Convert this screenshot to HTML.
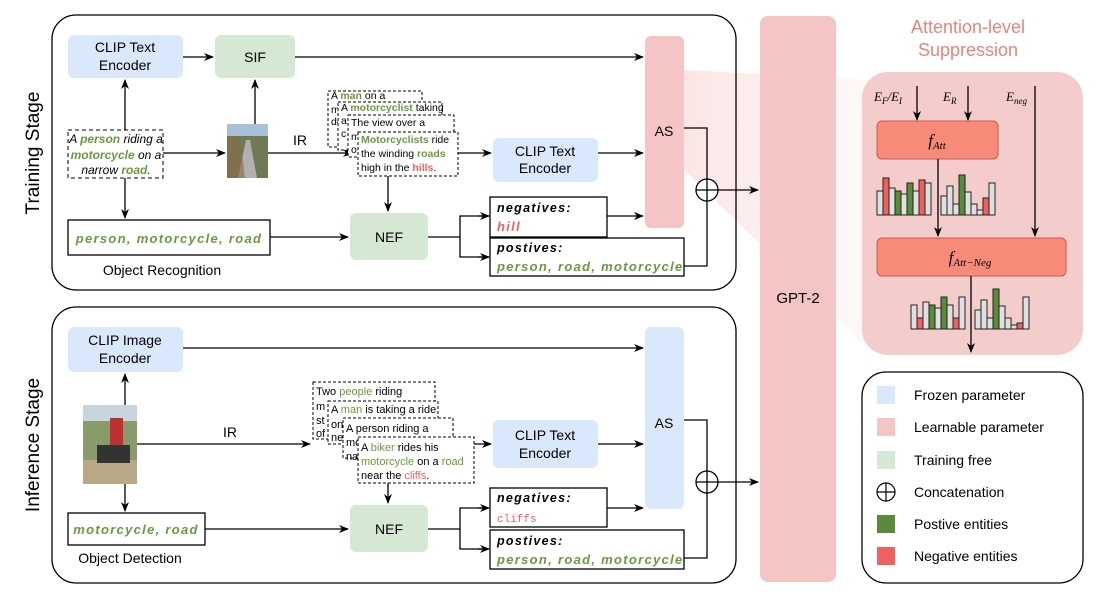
<!DOCTYPE html>
<html><head><meta charset="utf-8"><style>
html,body{margin:0;padding:0;background:#fff}
svg{display:block;font-family:"Liberation Sans",sans-serif}
.c{font-family:"Liberation Sans",sans-serif;font-style:italic;font-weight:bold}
.cp{letter-spacing:1.3px}
.g{fill:#6a9a3f}.r{fill:#f06060}
</style></head><body>
<svg width="1105" height="600" viewBox="0 0 1105 600" xmlns="http://www.w3.org/2000/svg">
<defs>
<marker id="a" markerWidth="10" markerHeight="10" refX="9" refY="5" orient="auto" markerUnits="userSpaceOnUse"><path d="M0,1 L10,5 L0,9 L3,5 z" fill="#000"/></marker>
<linearGradient id="fan" x1="0" x2="1"><stop offset="0" stop-color="#f8d0d0" stop-opacity="0.9"/><stop offset="1" stop-color="#f8d0d0" stop-opacity="0.2"/></linearGradient>
</defs>
<polygon points="684,70 870,80 870,350 684,170" fill="url(#fan)" opacity="0.6"/>
<rect x="52" y="15" width="684" height="275" rx="24" fill="none" stroke="#000" stroke-width="1.3"/>
<rect x="52" y="307" width="684" height="276" rx="24" fill="none" stroke="#000" stroke-width="1.3"/>
<text transform="translate(39,153) rotate(-90)" text-anchor="middle" font-size="19">Training Stage</text>
<text transform="translate(39,445) rotate(-90)" text-anchor="middle" font-size="19">Inference Stage</text>
<rect x="760" y="16" width="76" height="566" rx="8" fill="#f5c4c4"/>
<text x="798" y="303" text-anchor="middle" font-size="15">GPT-2</text>
<!-- Training -->
<rect x="68" y="35" width="115" height="43" rx="6" fill="#dae8fc"/>
<text x="125" y="52" text-anchor="middle" font-size="14">CLIP Text</text><text x="125" y="70" text-anchor="middle" font-size="14">Encoder</text>
<rect x="215" y="35" width="80" height="43" rx="6" fill="#d5e8d4"/>
<text x="255" y="62" text-anchor="middle" font-size="14">SIF</text>
<rect x="645" y="36" width="39" height="192" rx="6" fill="#f5c4c4"/>
<text x="664" y="136" text-anchor="middle" font-size="14">AS</text>
<line x1="183" y1="57" x2="213" y2="57" stroke="#000" stroke-width="1.3" marker-end="url(#a)"/>
<line x1="295" y1="57" x2="643" y2="57" stroke="#000" stroke-width="1.3" marker-end="url(#a)"/>
<rect x="68" y="130" width="95" height="48" fill="#fff" stroke="#000" stroke-dasharray="4,3"/>
<text font-size="12" text-anchor="middle" font-style="italic"><tspan x="116" y="143">A <tspan class="g" font-weight="bold">person</tspan> riding a</tspan><tspan x="116" y="159"><tspan class="g" font-weight="bold">motorcycle</tspan> on a</tspan><tspan x="116" y="174">narrow <tspan class="g" font-weight="bold">road</tspan>.</tspan></text>
<line x1="125" y1="130" x2="125" y2="80" stroke="#000" stroke-width="1.3" marker-end="url(#a)"/>
<line x1="125" y1="178" x2="125" y2="218" stroke="#000" stroke-width="1.3" marker-end="url(#a)"/>
<line x1="163" y1="153" x2="225" y2="153" stroke="#000" stroke-width="1.3" marker-end="url(#a)"/>
<rect x="227" y="124" width="41" height="54" fill="#6d7a55"/><rect x="227" y="124" width="41" height="12" fill="#a8c0d8"/><polygon points="238,178 257,178 250,140 246,140" fill="#b0b0b0"/><polygon points="227,136 240,136 245,178 227,178" fill="#8a6a45" opacity="0.6"/>
<line x1="255" y1="124" x2="255" y2="80" stroke="#000" stroke-width="1.3" marker-end="url(#a)"/>
<line x1="268" y1="153" x2="352" y2="153" stroke="#000" stroke-width="1.3" marker-end="url(#a)"/>
<text x="300" y="145" text-anchor="middle" font-size="14">IR</text>
<g font-size="10.5">
<rect x="328" y="91" width="94" height="56" fill="#fff" stroke="#000" stroke-dasharray="3,2"/>
<text x="331" y="99">A <tspan class="g" font-weight="bold">man</tspan> on a</text><text x="331" y="113">m</text><text x="331" y="125">do</text>
<rect x="338" y="102" width="104" height="48" fill="#fff" stroke="#000" stroke-dasharray="3,2"/>
<text x="341" y="111">A <tspan class="g" font-weight="bold">motorcyclist</tspan> taking</text><text x="341" y="124">a</text><text x="341" y="137">c</text>
<rect x="348" y="115" width="106" height="42" fill="#fff" stroke="#000" stroke-dasharray="3,2"/>
<text x="351" y="126">The view over a</text><text x="351" y="140">m</text><text x="351" y="153">o</text>
<rect x="358" y="132" width="100" height="44" fill="#fff" stroke="#000" stroke-dasharray="3,2"/>
<text x="361" y="143"><tspan class="g" font-weight="bold">Motorcyclists</tspan> ride</text><text x="361" y="157">the winding <tspan class="g" font-weight="bold">roads</tspan></text><text x="361" y="171">high in the <tspan class="r" font-weight="bold">hills</tspan>.</text>
</g>
<line x1="458" y1="153" x2="491" y2="153" stroke="#000" stroke-width="1.3" marker-end="url(#a)"/>
<rect x="493" y="138" width="105" height="44" rx="6" fill="#dae8fc"/>
<text x="545" y="156" text-anchor="middle" font-size="14">CLIP Text</text><text x="545" y="173" text-anchor="middle" font-size="14">Encoder</text>
<line x1="598" y1="153" x2="643" y2="153" stroke="#000" stroke-width="1.3" marker-end="url(#a)"/>
<line x1="388" y1="176" x2="388" y2="211" stroke="#000" stroke-width="1.3" marker-end="url(#a)"/>
<rect x="68" y="220" width="202" height="35" fill="#fff" stroke="#000" stroke-width="1.3"/>
<text x="169" y="243" text-anchor="middle" class="c g cp" font-size="13">person, motorcycle, road</text>
<text x="162" y="275" text-anchor="middle" font-size="14">Object Recognition</text>
<line x1="270" y1="237" x2="348" y2="237" stroke="#000" stroke-width="1.3" marker-end="url(#a)"/>
<rect x="350" y="213" width="78" height="47" rx="6" fill="#d5e8d4"/>
<text x="389" y="242" text-anchor="middle" font-size="14">NEF</text>
<path d="M428,237 H460 V216 H488 M460,237 V257 H488" fill="none" stroke="#000" stroke-width="1.3"/>
<line x1="478" y1="216" x2="489" y2="216" stroke="#000" stroke-width="1.3" marker-end="url(#a)"/>
<line x1="478" y1="257" x2="489" y2="257" stroke="#000" stroke-width="1.3" marker-end="url(#a)"/>
<rect x="490" y="197" width="117" height="40" fill="#fff" stroke="#000" stroke-width="1.3"/>
<text x="497" y="212" class="c cp" font-size="12.5">negatives:</text><text x="497" y="231" class="c r cp" font-size="13">hill</text>
<line x1="607" y1="216" x2="643" y2="216" stroke="#000" stroke-width="1.3" marker-end="url(#a)"/>
<rect x="490" y="238" width="194" height="38" fill="#fff" stroke="#000" stroke-width="1.3"/>
<text x="497" y="252" class="c cp" font-size="12.5">postives:</text><text x="497" y="271" class="c g cp" font-size="13">person, road, motorcycle</text>
<path d="M684,128 H707 V179 M684,266 H707 V201" fill="none" stroke="#000" stroke-width="1.3"/>
<circle cx="707" cy="190" r="11" fill="#fff" stroke="#000" stroke-width="1.3"/>
<path d="M696,190 H718 M707,179 V201" stroke="#000" stroke-width="1.3"/>
<line x1="718" y1="190" x2="758" y2="190" stroke="#000" stroke-width="1.3" marker-end="url(#a)"/>
<!-- Inference -->
<rect x="68" y="327" width="115" height="45" rx="6" fill="#dae8fc"/>
<text x="125" y="345" text-anchor="middle" font-size="14">CLIP Image</text><text x="125" y="363" text-anchor="middle" font-size="14">Encoder</text>
<line x1="183" y1="348" x2="643" y2="348" stroke="#000" stroke-width="1.3" marker-end="url(#a)"/>
<rect x="645" y="327" width="39" height="182" rx="6" fill="#dae8fc"/>
<text x="664" y="428" text-anchor="middle" font-size="14">AS</text>
<rect x="83" y="405" width="54" height="79" fill="#8a9a6a"/><rect x="83" y="405" width="54" height="16" fill="#c8d4de"/><rect x="83" y="460" width="54" height="24" fill="#b8a888"/><rect x="110" y="418" width="13" height="28" fill="#c03030"/><rect x="97" y="445" width="33" height="18" fill="#333"/>
<line x1="125" y1="405" x2="125" y2="374" stroke="#000" stroke-width="1.3" marker-end="url(#a)"/>
<line x1="125" y1="484" x2="125" y2="511" stroke="#000" stroke-width="1.3" marker-end="url(#a)"/>
<line x1="137" y1="444" x2="310" y2="444" stroke="#000" stroke-width="1.3" marker-end="url(#a)"/>
<text x="230" y="437" text-anchor="middle" font-size="14">IR</text>
<g font-size="11">
<rect x="313" y="382" width="122" height="57" fill="#fff" stroke="#000" stroke-dasharray="3,2"/>
<text x="316" y="395">Two <tspan class="g">people</tspan> riding</text><text x="316" y="410">m</text><text x="316" y="424">st</text><text x="316" y="437">of</text>
<rect x="328" y="401" width="110" height="43" fill="#fff" stroke="#000" stroke-dasharray="3,2"/>
<text x="331" y="413">A <tspan class="g">man</tspan> is taking a ride</text><text x="331" y="428">on</text><text x="331" y="441">ne</text>
<rect x="343" y="418" width="110" height="40" fill="#fff" stroke="#000" stroke-dasharray="3,2"/>
<text x="346" y="432">A person riding a</text><text x="346" y="446">mo</text><text x="346" y="460">na</text>
<rect x="358" y="437" width="116" height="46" fill="#fff" stroke="#000" stroke-dasharray="3,2"/>
<text x="361" y="451">A <tspan class="g">biker</tspan> rides his</text><text x="361" y="465"><tspan class="g">motorcycle</tspan> on a <tspan class="g">road</tspan></text><text x="361" y="479">near the <tspan class="r">cliffs</tspan>.</text>
</g>
<line x1="474" y1="444" x2="491" y2="444" stroke="#000" stroke-width="1.3" marker-end="url(#a)"/>
<rect x="493" y="420" width="105" height="48" rx="6" fill="#dae8fc"/>
<text x="545" y="440" text-anchor="middle" font-size="14">CLIP Text</text><text x="545" y="458" text-anchor="middle" font-size="14">Encoder</text>
<line x1="598" y1="444" x2="643" y2="444" stroke="#000" stroke-width="1.3" marker-end="url(#a)"/>
<line x1="388" y1="483" x2="388" y2="503" stroke="#000" stroke-width="1.3" marker-end="url(#a)"/>
<rect x="68" y="513" width="137" height="32" fill="#fff" stroke="#000" stroke-width="1.3"/>
<text x="136" y="534" text-anchor="middle" class="c g cp" font-size="13">motorcycle, road</text>
<text x="130" y="563" text-anchor="middle" font-size="14">Object Detection</text>
<line x1="205" y1="529" x2="348" y2="529" stroke="#000" stroke-width="1.3" marker-end="url(#a)"/>
<rect x="350" y="505" width="78" height="47" rx="6" fill="#d5e8d4"/>
<text x="389" y="534" text-anchor="middle" font-size="14">NEF</text>
<path d="M428,529 H460 V508 H488 M460,529 V549 H488" fill="none" stroke="#000" stroke-width="1.3"/>
<line x1="478" y1="508" x2="489" y2="508" stroke="#000" stroke-width="1.3" marker-end="url(#a)"/>
<line x1="478" y1="549" x2="489" y2="549" stroke="#000" stroke-width="1.3" marker-end="url(#a)"/>
<rect x="490" y="488" width="117" height="39" fill="#fff" stroke="#000" stroke-width="1.3"/>
<text x="497" y="502" class="c cp" font-size="12.5">negatives:</text><text x="497" y="522" class="r" font-size="11" font-family="Liberation Mono">cliffs</text>
<line x1="607" y1="508" x2="643" y2="508" stroke="#000" stroke-width="1.3" marker-end="url(#a)"/>
<rect x="490" y="530" width="194" height="39" fill="#fff" stroke="#000" stroke-width="1.3"/>
<text x="497" y="545" class="c cp" font-size="12.5">postives:</text><text x="497" y="564" class="c g cp" font-size="13">person, road, motorcycle</text>
<path d="M684,420 H707 V471 M684,558 H707 V493" fill="none" stroke="#000" stroke-width="1.3"/>
<circle cx="707" cy="482" r="11" fill="#fff" stroke="#000" stroke-width="1.3"/>
<path d="M696,482 H718 M707,471 V493" stroke="#000" stroke-width="1.3"/>
<line x1="718" y1="482" x2="758" y2="482" stroke="#000" stroke-width="1.3" marker-end="url(#a)"/>
<!-- Right panel -->
<text x="968" y="33" text-anchor="middle" font-size="18" fill="#e8837c">Attention-level</text>
<text x="968" y="56" text-anchor="middle" font-size="18" fill="#e8837c">Suppression</text>
<rect x="862" y="72" width="221" height="283" rx="26" fill="#f5cccc"/>
<g font-family="Liberation Serif" font-style="italic" font-size="13">
<text x="874" y="101">E<tspan font-size="9" dy="3">F</tspan><tspan dy="-3">/E</tspan><tspan font-size="9" dy="3">I</tspan></text>
<text x="943" y="101">E<tspan font-size="9" dy="3">R</tspan></text>
<text x="1006" y="101">E<tspan font-size="9" dy="3">neg</tspan></text>
</g>
<line x1="917" y1="86" x2="917" y2="120" stroke="#000" stroke-width="1.3" marker-end="url(#a)"/>
<line x1="968" y1="86" x2="968" y2="120" stroke="#000" stroke-width="1.3" marker-end="url(#a)"/>
<line x1="1035" y1="86" x2="1035" y2="236" stroke="#000" stroke-width="1.3" marker-end="url(#a)"/>
<rect x="877" y="121" width="121" height="38" rx="5" fill="#f88a7a" stroke="#c85a50"/>
<text x="937" y="146" text-anchor="middle" font-family="Liberation Serif" font-style="italic" font-size="17">f<tspan font-size="11" dy="3">Att</tspan></text>
<line x1="938" y1="159" x2="938" y2="236" stroke="#000" stroke-width="1.3" marker-end="url(#a)"/>
<rect x="877" y="238" width="189" height="38" rx="5" fill="#f88a7a" stroke="#c85a50"/>
<text x="970" y="263" text-anchor="middle" font-family="Liberation Serif" font-style="italic" font-size="17">f<tspan font-size="11" dy="3">Att−Neg</tspan></text>
<line x1="971" y1="276" x2="971" y2="352" stroke="#000" stroke-width="1.3" marker-end="url(#a)"/>
<g stroke="#222" stroke-width="1">
<rect x="877" y="191" width="6" height="24" fill="#e0e0e0"/><rect x="883" y="178" width="6" height="37" fill="#f06060"/><rect x="889" y="188" width="6" height="27" fill="#e0e0e0"/><rect x="895" y="191" width="6" height="24" fill="#5a8a3a"/><rect x="901" y="194" width="6" height="21" fill="#e0e0e0"/><rect x="907" y="183" width="6" height="32" fill="#5a8a3a"/><rect x="913" y="191" width="6" height="24" fill="#e0e0e0"/><rect x="919" y="180" width="6" height="35" fill="#f06060"/><rect x="925" y="183" width="6" height="32" fill="#e0e0e0"/>
<rect x="941" y="196" width="6" height="19" fill="#e0e0e0"/><rect x="947" y="186" width="6" height="29" fill="#e0e0e0"/><rect x="953" y="204" width="6" height="11" fill="#e0e0e0"/><rect x="959" y="175" width="6" height="40" fill="#5a8a3a"/><rect x="965" y="192" width="6" height="23" fill="#e0e0e0"/><rect x="971" y="204" width="6" height="11" fill="#e0e0e0"/><rect x="977" y="210" width="6" height="5" fill="#e0e0e0"/><rect x="983" y="198" width="6" height="17" fill="#f06060"/><rect x="989" y="183" width="6" height="32" fill="#e0e0e0"/>
<rect x="911" y="305" width="6" height="24" fill="#e0e0e0"/><rect x="917" y="318" width="6" height="11" fill="#f06060"/><rect x="923" y="302" width="6" height="27" fill="#e0e0e0"/><rect x="929" y="305" width="6" height="24" fill="#5a8a3a"/><rect x="935" y="308" width="6" height="21" fill="#e0e0e0"/><rect x="941" y="297" width="6" height="32" fill="#5a8a3a"/><rect x="947" y="305" width="6" height="24" fill="#e0e0e0"/><rect x="953" y="318" width="6" height="11" fill="#f06060"/><rect x="959" y="297" width="6" height="32" fill="#e0e0e0"/>
<rect x="975" y="310" width="6" height="19" fill="#e0e0e0"/><rect x="981" y="300" width="6" height="29" fill="#e0e0e0"/><rect x="987" y="318" width="6" height="11" fill="#e0e0e0"/><rect x="993" y="289" width="6" height="40" fill="#5a8a3a"/><rect x="999" y="306" width="6" height="23" fill="#e0e0e0"/><rect x="1005" y="318" width="6" height="11" fill="#e0e0e0"/><rect x="1011" y="325" width="6" height="4" fill="#e0e0e0"/><rect x="1017" y="323" width="6" height="6" fill="#f06060"/><rect x="1023" y="297" width="6" height="32" fill="#e0e0e0"/>
</g>
<!-- Legend -->
<rect x="862" y="372" width="221" height="211" rx="24" fill="#fff" stroke="#000" stroke-width="1.3"/>
<g font-size="14">
<rect x="877" y="386" width="18" height="18" fill="#dae8fc"/><text x="914" y="400">Frozen parameter</text>
<rect x="877" y="418" width="18" height="18" fill="#f5c4c4"/><text x="914" y="432">Learnable parameter</text>
<rect x="877" y="451" width="18" height="18" fill="#d5e8d4"/><text x="914" y="465">Training free</text>
<circle cx="886" cy="492" r="9" fill="#fff" stroke="#000" stroke-width="1.2"/><path d="M877,492 H895 M886,483 V501" stroke="#000" stroke-width="1.2"/><text x="914" y="497">Concatenation</text>
<rect x="877" y="515" width="18" height="18" fill="#5a8a3a"/><text x="914" y="529">Postive entities</text>
<rect x="877" y="547" width="18" height="18" fill="#f06060"/><text x="914" y="561">Negative entities</text>
</g>
</svg>
</body></html>
